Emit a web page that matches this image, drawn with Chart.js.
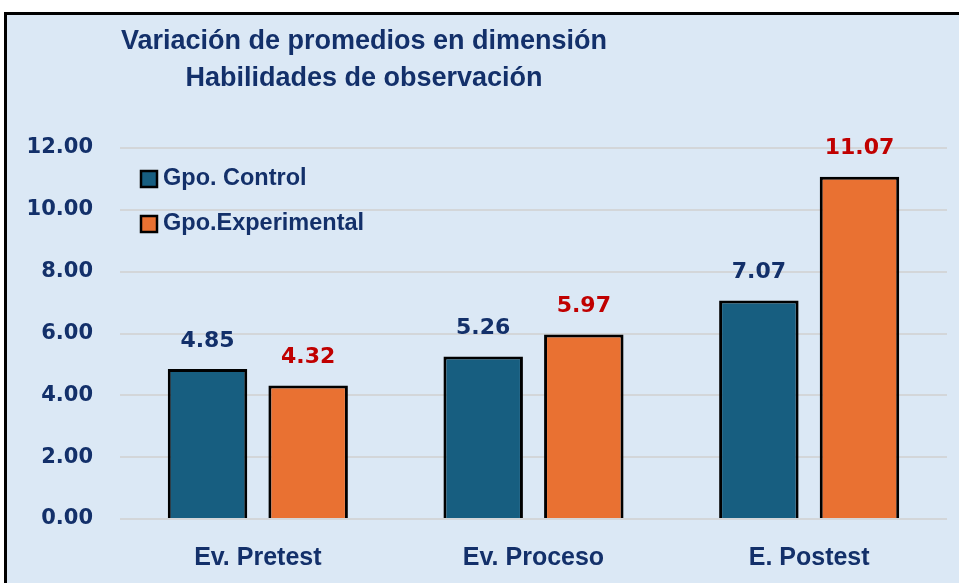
<!DOCTYPE html>
<html lang="es">
<head>
    <meta charset="utf-8">
    <title>Habilidades de observación</title>
    <script src="https://cdn.jsdelivr.net/npm/chart.js@4.4.1/dist/chart.umd.min.js"></script>
    <style>
        body { margin: 0; background: #fff; overflow: hidden; }
        .marco {
            position: absolute; left: 4px; top: 12px;
            width: 960px; height: 580px;
            border: 3px solid #000; background: #dbe8f5;
        }
        canvas { position: absolute; left: 0; top: 0; }
    </style>
</head>
<body>
    <div class="marco">
        <canvas id="grafico" width="952" height="568"></canvas>
    </div>

    <script>
        // datos
        var categorias = ['Ev. Pretest', 'Ev. Proceso', 'E. Postest'];
        var gpoControl = [4.85, 5.26, 7.07];
        var gpoExperimental = [4.32, 5.97, 11.07];
        var titulo = ['Variación de promedios en dimensión', 'Habilidades de observación'];

        var azul = '#13306a';
        var rojo = '#c00000';
        var fuenteNum = '"DejaVu Sans", sans-serif';
        var fuenteTxt = '"Liberation Sans", Arial, sans-serif';

        // titulo, leyenda y etiquetas de datos
        var extras = {
            id: 'extras',
            afterDatasetsDraw: function (chart) {
                var ctx = chart.ctx;
                ctx.save();
                ctx.textBaseline = 'middle';

                // etiquetas
                var colores = [azul, rojo];
                chart.data.datasets.forEach(function (ds, i) {
                    chart.getDatasetMeta(i).data.forEach(function (bar, j) {
                        ctx.fillStyle = colores[i];
                        ctx.font = 'bold 22px ' + fuenteNum;
                        ctx.textAlign = 'center';
                        ctx.fillText(ds.data[j].toFixed(2), bar.x, bar.y - 28);
                    });
                });

                // titulo
                ctx.fillStyle = azul;
                ctx.textAlign = 'center';
                ctx.font = 'bold 27px ' + fuenteTxt;
                ctx.fillText(titulo[0], 357, 27);
                ctx.fillText(titulo[1], 357, 64);

                // leyenda
                ctx.textAlign = 'left';
                ctx.font = 'bold 23.5px ' + fuenteTxt;
                chart.data.datasets.forEach(function (ds, i) {
                    var y = 164 + i * 45;
                    ctx.fillStyle = ds.backgroundColor;
                    ctx.fillRect(134, y - 8, 16, 16);
                    ctx.lineWidth = 2.5;
                    ctx.strokeStyle = '#000';
                    ctx.strokeRect(134, y - 8, 16, 16);
                    ctx.fillStyle = azul;
                    ctx.fillText(ds.label, 156, y);
                });
                ctx.restore();
            }
        };

        var ctx = document.getElementById('grafico').getContext('2d');
        var grafico = new Chart(ctx, {
            type: 'bar',
            data: {
                labels: categorias,
                datasets: [{
                    label: 'Gpo. Control',
                    data: gpoControl,
                    backgroundColor: '#175e80',
                    borderColor: '#000',
                    borderWidth: 3
                }, {
                    label: 'Gpo.Experimental',
                    data: gpoExperimental,
                    backgroundColor: '#e97132',
                    borderColor: '#000',
                    borderWidth: 3
                }]
            },
            options: {
                responsive: false,
                animation: false,
                categoryPercentage: 0.73,
                barPercentage: 0.79,
                layout: { padding: { top: 133, right: 12, bottom: 12, left: 0 } },
                plugins: {
                    legend: { display: false },
                    title: { display: false },
                    tooltip: { enabled: false }
                },
                scales: {
                    x: {
                        afterFit: function (scale) { scale.height = 52; },
                        grid: { display: false },
                        border: { display: false },
                        ticks: {
                            color: azul,
                            padding: 16,
                            font: { family: fuenteTxt, size: 25, weight: 'bold' }
                        }
                    },
                    y: {
                        min: 0,
                        max: 12,
                        afterFit: function (scale) { scale.width = 113; },
                        grid: { color: '#d3d6d9', lineWidth: 2, drawTicks: false },
                        border: { display: false },
                        ticks: {
                            stepSize: 2,
                            color: azul,
                            padding: 27,
                            font: { family: fuenteNum, size: 21, weight: 'bold' },
                            callback: function (v) { return v.toFixed(2); }
                        }
                    }
                }
            },
            plugins: [extras]
        });
    </script>
</body>
</html>
